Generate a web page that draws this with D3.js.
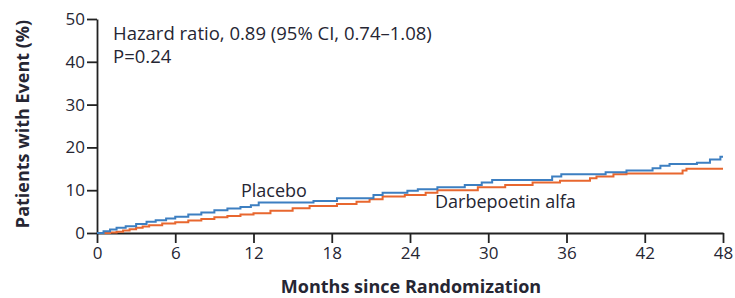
<!DOCTYPE html>
<html>
<head>
<meta charset="utf-8">
<script src="https://cdn.jsdelivr.net/npm/d3@7"></script>
<style>
  body { margin: 0; background: #fff; }
  text { font-family: "Open Sans", sans-serif; fill: #262633; }
</style>
</head>
<body>
<div id="chart"></div>
<script>
// step curves (month, cumulative %)
var placeboMonths = [0, 0.5, 1, 1.5, 2.2, 3, 3.8, 4.5, 5.3, 6, 7, 8, 9, 10, 11, 11.8, 12.4, 16.6, 18.4, 21.2, 21.9, 23.8, 24.6, 26.1, 28.2, 29.5, 30.3, 34.9, 35.6, 39.0, 40.6, 42.6, 43.2, 43.9, 46.0, 47.0, 47.8, 48]
var placeboPct    = [0, 0.4, 0.8, 1.2, 1.6, 2.1, 2.6, 3.0, 3.4, 3.8, 4.3, 4.8, 5.3, 5.7, 6.1, 6.5, 7.1, 7.5, 8.1, 8.9, 9.4, 9.9, 10.2, 10.7, 11.2, 11.8, 12.4, 13.2, 13.7, 14.2, 14.6, 15.1, 15.7, 16.1, 16.4, 17.2, 17.8, 17.8]

var darbeMonths = [0, 1, 1.5, 2, 2.5, 3, 3.5, 4, 5, 6, 7, 8, 9, 10, 11, 12, 13.3, 15.0, 16.3, 18.4, 19.9, 20.9, 21.9, 23.6, 25.2, 26.1, 29.2, 31.3, 33.4, 35.5, 37.8, 38.3, 39.6, 40.6, 44.9, 45.2, 48]
var darbePct    = [0, 0.1, 0.3, 0.6, 0.9, 1.2, 1.5, 1.8, 2.2, 2.5, 2.9, 3.3, 3.7, 4.0, 4.3, 4.6, 5.2, 5.8, 6.3, 6.8, 7.3, 7.9, 8.5, 8.9, 9.4, 10.0, 10.7, 11.2, 11.8, 12.2, 12.8, 13.2, 13.7, 13.9, 14.6, 15.0, 15.0]

var xTicks = [0, 6, 12, 18, 24, 30, 36, 42, 48]
var yTicks = [0, 10, 20, 30, 40, 50]

var width = 735, height = 298
var margin = {top: 19, right: 12, bottom: 65, left: 97}

var svg = d3.select("#chart").append("svg")
    .attr("width", width)
    .attr("height", height)

var x = d3.scaleLinear().domain([0, 48]).range([margin.left, width - margin.right])
var y = d3.scaleLinear().domain([0, 50]).range([height - margin.bottom, margin.top])

// axes
var xAxis = svg.append("g")
    .attr("transform", "translate(0," + y(0) + ")")
    .call(d3.axisBottom(x).tickValues(xTicks).tickSize(10).tickPadding(4).tickSizeOuter(0))
var yAxis = svg.append("g")
    .attr("transform", "translate(" + x(0) + ",0)")
    .call(d3.axisLeft(y).tickValues(yTicks).tickSize(10).tickPadding(2).tickSizeOuter(0))

;[xAxis, yAxis].forEach(function (a) {
    a.select(".domain").attr("stroke", "#222").attr("stroke-width", 1.8)
    a.selectAll(".tick line").attr("stroke", "#222").attr("stroke-width", 1.8)
    a.selectAll(".tick text").attr("font-size", "17px").attr("font-family", "'Open Sans', sans-serif").attr("fill", "#262633")
})

function toSteps(months, pct) {
    return months.map(function (m, i) { return [m, pct[i]] })
}

var line = d3.line()
    .x(function (d) { return x(d[0]) })
    .y(function (d) { return y(d[1]) })
    .curve(d3.curveStepAfter)

svg.append("path")
    .datum(toSteps(darbeMonths, darbePct))
    .attr("d", line)
    .attr("fill", "none")
    .attr("stroke", "#e8672f")
    .attr("stroke-width", 2)

svg.append("path")
    .datum(toSteps(placeboMonths, placeboPct))
    .attr("d", line)
    .attr("fill", "none")
    .attr("stroke", "#3d7fc1")
    .attr("stroke-width", 2)

// labels
svg.append("text").attr("x", 113).attr("y", 40).attr("font-size", "18.5px")
    .text("Hazard ratio, 0.89 (95% CI, 0.74\u20131.08)")
svg.append("text").attr("x", 113).attr("y", 63).attr("font-size", "18.5px")
    .text("P=0.24")

svg.append("text").attr("x", 241).attr("y", 197).attr("font-size", "18px").text("Placebo")
svg.append("text").attr("x", 435).attr("y", 208).attr("font-size", "18px").text("Darbepoetin alfa")

svg.append("text")
    .attr("x", 411)
    .attr("y", 293)
    .attr("text-anchor", "middle")
    .attr("font-size", "18px")
    .attr("font-weight", "bold")
    .text("Months since Randomization")

svg.append("text")
    .attr("transform", "translate(29,124) rotate(-90)")
    .attr("text-anchor", "middle")
    .attr("font-size", "18px")
    .attr("font-weight", "bold")
    .text("Patients with Event (%)")
</script>
</body>
</html>
